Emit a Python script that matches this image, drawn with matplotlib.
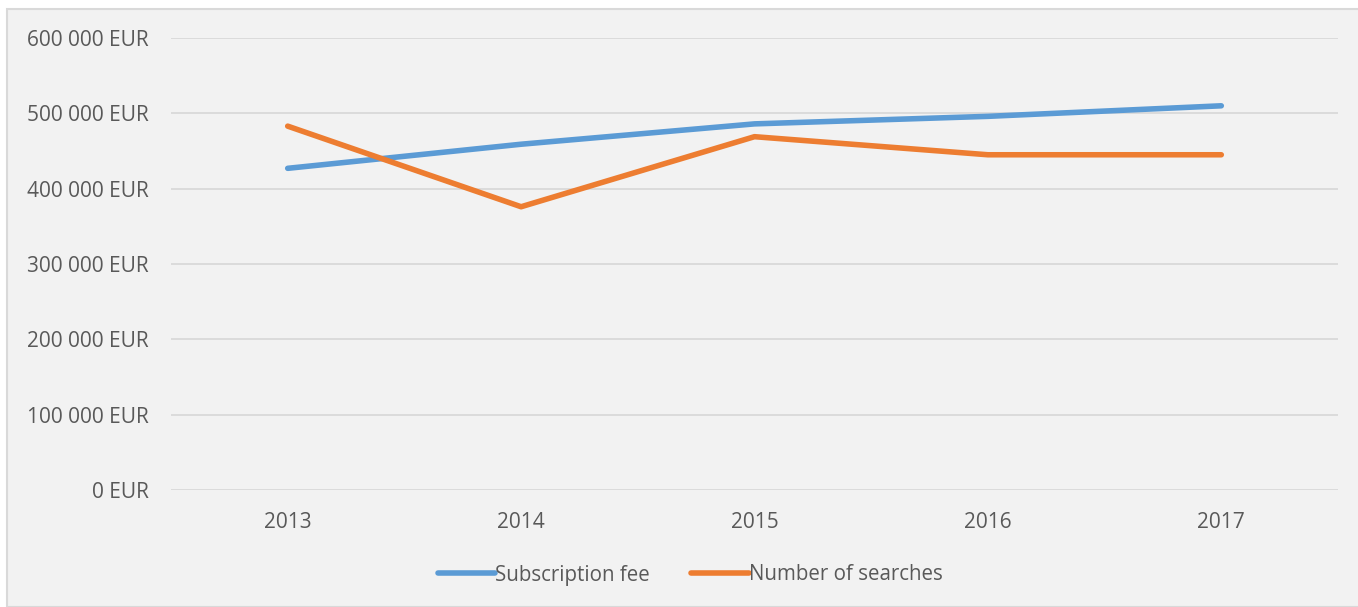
import matplotlib.pyplot as plt
from matplotlib.patches import Rectangle
from matplotlib.ticker import FuncFormatter

years = ['2013', '2014', '2015', '2016', '2017']
subscription_fee = [427000, 459000, 486000, 496000, 510000]
number_of_searches = [483000, 376000, 469000, 445000, 445000]

plt.rcParams['font.family'] = ['Open Sans', 'DejaVu Sans']

fig = plt.figure(figsize=(13.58, 6.07), dpi=100)
fig.patch.set_facecolor('white')
# chart area box, like an Excel chart
fig.patches.append(Rectangle((7 / 1358, 0), 1.0, 1 - 9 / 607, transform=fig.transFigure,
                             facecolor='#F2F2F2', edgecolor='#D9D9D9', linewidth=1.5, zorder=-5))

ax = fig.add_axes([171 / 1358, 1 - 490 / 607, 1167 / 1358, 452 / 607])
ax.set_facecolor('none')

x = range(len(years))
ax.plot(x, subscription_fee, color='#5B9BD5', linewidth=4, solid_capstyle='round',
        solid_joinstyle='round', label='Subscription fee', zorder=3)
ax.plot(x, number_of_searches, color='#ED7D31', linewidth=4, solid_capstyle='round',
        solid_joinstyle='round', label='Number of searches', zorder=3)

ax.set_xlim(-0.5, len(years) - 0.5)
ax.set_ylim(0, 600000)
ax.set_yticks(range(0, 600001, 100000))
ax.yaxis.set_major_formatter(FuncFormatter(lambda v, p: f'{int(v):,} EUR'.replace(',', ' ')))
ax.set_xticks(list(x))
ax.set_xticklabels(years)
ax.grid(axis='y', color='#D9D9D9', linewidth=1.3)
ax.set_axisbelow(True)
for s in ax.spines.values():
    s.set_visible(False)
ax.tick_params(axis='both', length=0, labelsize=15, colors='#595959')
ax.tick_params(axis='y', pad=16)
ax.tick_params(axis='x', pad=16)

leg = fig.legend(loc='center', bbox_to_anchor=(690 / 1358, 1 - 575 / 607), ncol=2,
                 frameon=False, fontsize=14.8, handlelength=2.8, handletextpad=0.0,
                 columnspacing=2.0)
for t in leg.get_texts():
    t.set_color('#595959')

fig.savefig('out.png', dpi=100, facecolor=fig.get_facecolor())
